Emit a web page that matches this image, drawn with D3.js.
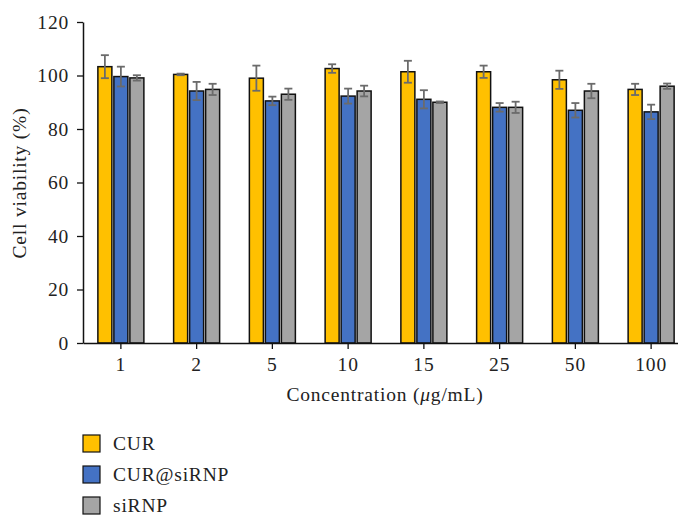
<!DOCTYPE html>
<html><head><meta charset="utf-8">
<script src="https://cdn.jsdelivr.net/npm/d3@7"></script>
<style>body{margin:0;background:#fff}svg{display:block}</style>
</head><body><svg id="c" width="678" height="515"></svg>
<script>
const categories = ["1","2","5","10","15","25","50","100"];
const seriesNames = ["CUR","CUR@siRNP","siRNP"];
const curValues = [103.3,100.4,99.0,102.6,101.4,101.4,98.4,94.8];
const curErr    = [4.3,0.3,4.7,1.6,4.1,2.3,3.4,2.1];
const cursiValues = [99.6,94.2,90.5,92.3,91.1,88.1,87.0,86.4];
const cursiErr    = [3.7,3.4,1.6,2.8,3.4,1.6,2.7,2.7];
const sirnpValues = [99.1,94.8,93.0,94.2,90.0,88.1,94.2,96.0];
const sirnpErr    = [1.0,2.1,2.1,2.0,0.3,2.1,2.7,1.0];
const yTicks = [0,20,40,60,80,100,120];
const colors = ["#FFC000","#4472C4","#A5A5A5"];

const values=[curValues,cursiValues,sirnpValues], errs=[curErr,cursiErr,sirnpErr];
const svg=d3.select("#c");
const FF="'Liberation Serif', 'Times New Roman', serif";
const FS="19.5px", LS="0.8px";
const x=d3.scaleBand().domain(categories).range([83,689]).paddingInner(0).paddingOuter(0);
const y=d3.scaleLinear().domain([0,120]).range([343,22]);
const bw=14, gap=2;
const xs=d3.scaleBand().domain(seriesNames).range([0,bw*3+gap*2]).paddingInner(gap/(bw+gap));

function txt(sel){return sel.style("font-size",FS).style("font-family",FF).style("letter-spacing",LS).attr("fill","#222");}

const g=svg.append("g");
seriesNames.forEach((s,si)=>{
  categories.forEach((c,ci)=>{
    const cx=x(c)+x.bandwidth()/2-(bw*3+gap*2)/2+xs(s);
    g.append("rect").attr("x",cx).attr("y",y(values[si][ci])).attr("width",xs.bandwidth())
     .attr("height",y(0)-y(values[si][ci])).attr("fill",colors[si]).attr("stroke","#111").attr("stroke-width",1.5);
    const mx=cx+xs.bandwidth()/2, top=y(values[si][ci]+errs[si][ci]), bot=y(values[si][ci]-errs[si][ci]);
    const eg=g.append("g").attr("stroke","#6b6b6b").attr("stroke-width",1.8);
    eg.append("line").attr("x1",mx).attr("x2",mx).attr("y1",top).attr("y2",bot);
    eg.append("line").attr("x1",mx-4).attr("x2",mx+4).attr("y1",top).attr("y2",top);
    eg.append("line").attr("x1",mx-4).attr("x2",mx+4).attr("y1",bot).attr("y2",bot);
  });
});

function styleAxis(sel){
  sel.select(".domain").attr("stroke","#111").attr("stroke-width",1.5);
  sel.selectAll(".tick line").attr("stroke","#111").attr("stroke-width",1.3);
  txt(sel.selectAll("text"));
}
const ya=svg.append("g").attr("transform","translate(83,0)")
 .call(d3.axisLeft(y).tickValues(yTicks).tickSize(6).tickPadding(8).tickSizeOuter(0));
styleAxis(ya);
const xa=svg.append("g").attr("transform","translate(0,343)")
 .call(d3.axisBottom(x).tickSize(6).tickPadding(8).tickSizeOuter(0));
styleAxis(xa);

txt(svg.append("text").attr("transform","translate(26,183) rotate(-90)").attr("text-anchor","middle"))
 .text("Cell viability (%)");
const xt=txt(svg.append("text").attr("x",385).attr("y",401).attr("text-anchor","middle"));
xt.append("tspan").text("Concentration (");
xt.append("tspan").style("font-style","italic").text("μ");
xt.append("tspan").text("g/mL)");

seriesNames.forEach((s,i)=>{
  const ly=435+i*31;
  svg.append("rect").attr("x",83).attr("y",ly).attr("width",17).attr("height",17)
   .attr("fill",colors[i]).attr("stroke","#111").attr("stroke-width",1.2);
  txt(svg.append("text").attr("x",113).attr("y",ly+15)).text(s);
});
</script></body></html>
